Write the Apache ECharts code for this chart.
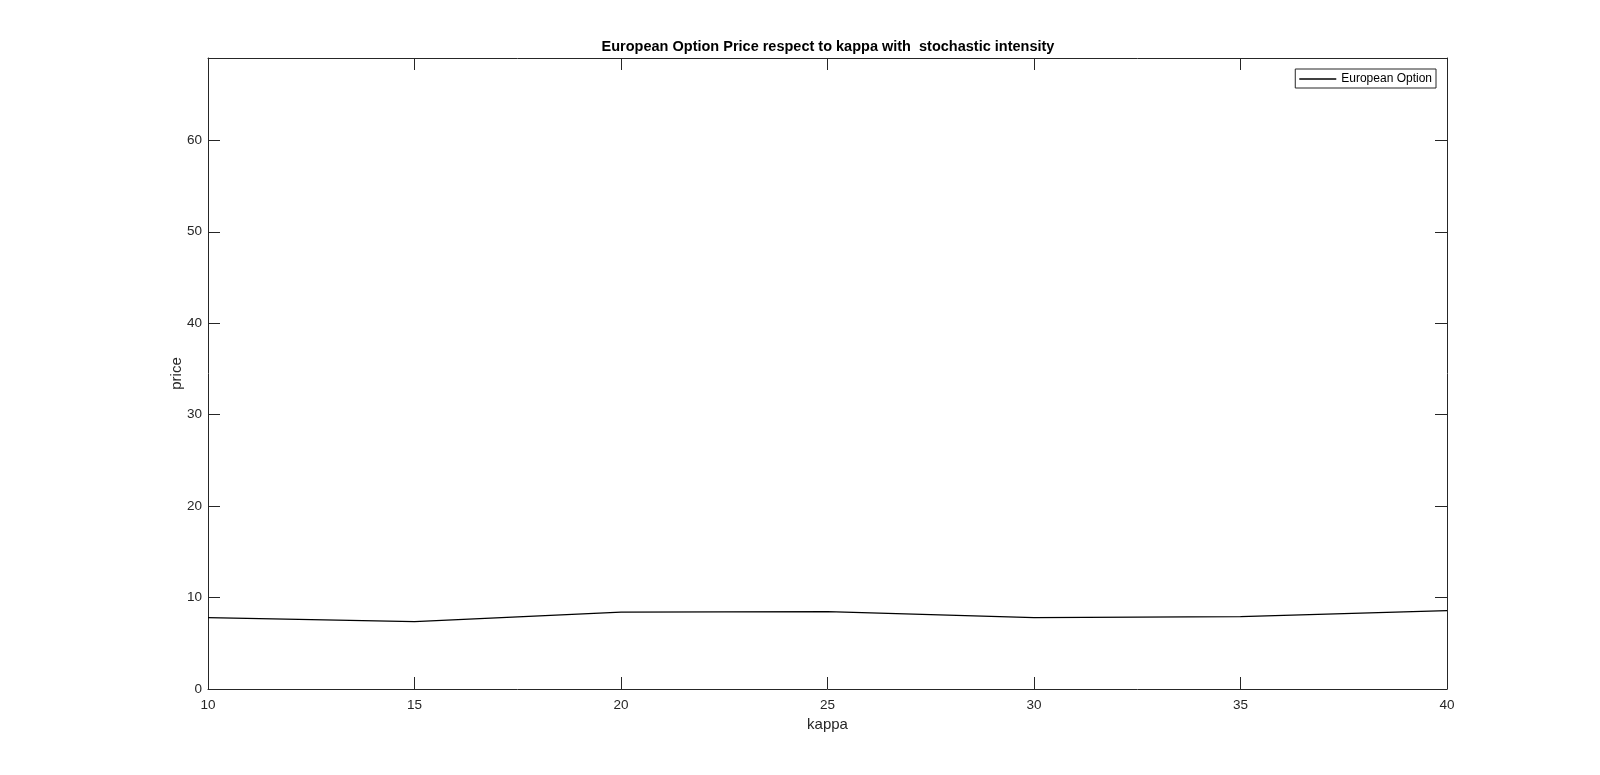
<!DOCTYPE html>
<html>
<head>
<meta charset="utf-8">
<script src="https://cdn.jsdelivr.net/npm/echarts@6/dist/echarts.min.js"></script>
<style>
  html, body { margin: 0; padding: 0; background: #fff; }
  #chart { width: 1600px; height: 775px; }
</style>
</head>
<body>
<div id="chart"></div>
<script>
// kappa values and the option price
var kappa = [10, 15, 20, 25, 30, 35, 40];
var price = [7.81, 7.37, 8.40, 8.47, 7.81, 7.92, 8.58];

var axisColor = '#262626';
var font = '"Liberation Sans", Arial, sans-serif';

var myChart = echarts.init(document.getElementById('chart'));

var option = {
    backgroundColor: '#fff',
    animation: false,
    title: {
        text: 'European Option Price respect to kappa with  stochastic intensity',
        left: 823,
        textAlign: 'center',
        top: 34,
        textStyle: { fontFamily: font, fontSize: 14.5, fontWeight: 'bold', color: '#000' }
    },
    legend: {
        right: 164,
        top: 69,
        data: ['European Option'],
        icon: 'rect',
        itemWidth: 37,
        itemHeight: 1.5,
        itemGap: 5,
        padding: [4, 4, 3, 4],
        borderColor: axisColor,
        borderWidth: 1,
        borderRadius: 0,
        backgroundColor: '#fff',
        textStyle: { fontFamily: font, fontSize: 12, color: '#000' }
    },
    grid: {
        left: 208,
        right: 153,
        top: 58,
        bottom: 86
    },
    xAxis: [{
        type: 'value',
        min: 10,
        max: 40,
        interval: 5,
        name: 'kappa',
        nameLocation: 'middle',
        nameGap: 28,
        nameMoveOverlap: false,
        nameTextStyle: { fontFamily: font, fontSize: 15, color: axisColor },
        axisLine: { onZero: false, lineStyle: { color: axisColor, width: 1 } },
        axisTick: { inside: true, length: 12, lineStyle: { color: axisColor } },
        axisLabel: { fontFamily: font, fontSize: 13.5, color: axisColor, margin: 9 },
        splitLine: { show: false }
    }, {
        type: 'value',
        position: 'top',
        min: 10,
        max: 40,
        interval: 5,
        axisLine: { show: true, onZero: false, lineStyle: { color: axisColor, width: 1 } },
        axisTick: { show: true, inside: true, length: 12, lineStyle: { color: axisColor } },
        axisLabel: { show: false },
        splitLine: { show: false }
    }],
    yAxis: [{
        type: 'value',
        min: 0,
        max: 69,
        interval: 10,
        name: 'price',
        nameLocation: 'middle',
        nameGap: 24,
        nameMoveOverlap: false,
        nameTextStyle: { fontFamily: font, fontSize: 15, color: axisColor },
        axisLine: { show: true, onZero: false, lineStyle: { color: axisColor, width: 1 } },
        axisTick: { show: true, inside: true, length: 12, lineStyle: { color: axisColor } },
        axisLabel: { fontFamily: font, fontSize: 13.5, color: axisColor, margin: 6, showMaxLabel: false },
        splitLine: { show: false }
    }, {
        type: 'value',
        position: 'right',
        min: 0,
        max: 69,
        interval: 10,
        axisLine: { show: true, onZero: false, lineStyle: { color: axisColor, width: 1 } },
        axisTick: { show: true, inside: true, length: 12, lineStyle: { color: axisColor } },
        axisLabel: { show: false },
        splitLine: { show: false }
    }],
    series: [{
        name: 'European Option',
        type: 'line',
        data: kappa.map(function (k, i) { return [k, price[i]]; }),
        showSymbol: false,
        symbol: 'none',
        itemStyle: { color: '#000' },
        lineStyle: { color: '#000', width: 1.2 }
    }]
};

myChart.setOption(option);
</script>
</body>
</html>
